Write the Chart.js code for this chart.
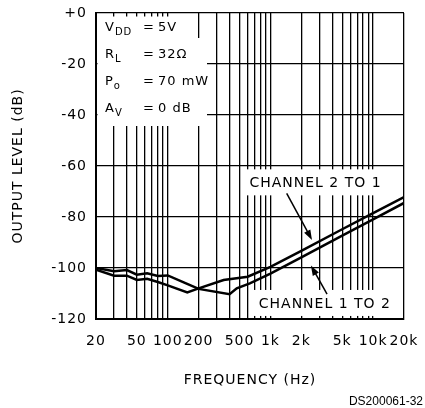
<!DOCTYPE html>
<html>
<head>
<meta charset="utf-8">
<script src="https://cdn.jsdelivr.net/npm/chart.js@4.4.1/dist/chart.umd.min.js"></script>
<style>
  html, body { margin: 0; padding: 0; background: #fff; }
  #wrap { width: 425px; height: 408px; }
</style>
</head>
<body>
<div id="wrap"><canvas id="crosstalkChart" width="425" height="408"></canvas></div>
<script>
// axis ticks
const xTickValues = [20, 50, 100, 200, 500, 1000, 2000, 5000, 10000, 20000];
const xTickLabels = ["20", "50", "100", "200", "500", "1k", "2k", "5k", "10k", "20k"];
const yTickValues = [0, -20, -40, -60, -80, -100, -120];
const yTickLabels = ["+0", "-20", "-40", "-60", "-80", "-100", "-120"];

// channel 2 -> 1 (upper curve at high frequency)
const freq2to1 = [20, 30, 40, 50, 63, 80, 100, 155, 200, 350, 600, 1000, 2000, 5000, 10000, 20000];
const level2to1 = [-100.7, -103.0, -103.0, -104.7, -104.2, -105.5, -106.8, -109.6, -108.0, -104.7, -103.4, -99.6, -93.3, -84.8, -78.5, -72.2];

// channel 1 -> 2 (lower curve at high frequency)
const freq1to2 = [20, 30, 40, 50, 63, 80, 100, 143, 200, 400, 470, 630, 1000, 2000, 5000, 10000, 20000];
const level1to2 = [-100.0, -101.3, -100.8, -102.6, -102.1, -103.1, -102.9, -105.6, -108.2, -110.3, -108.0, -106.0, -102.2, -95.8, -87.3, -80.9, -74.5];

// test conditions box
const condName = ["V", "R", "P", "A"];
const condSub = ["DD", "L", "o", "V"];
const condValue = ["5V", "32Ω", "70 mW", "0 dB"];

// curve labels and their arrows (frequency, level)
const noteText = ["CHANNEL 2 TO 1", "CHANNEL 1 TO 2"];
const noteAt = [[2750, -66.8], [3390, -114.1]];
const arrowFrom = [[1440, -70.7], [3560, -110.2]];
const arrowTo = [[2540, -89.0], [2480, -99.0]];

const FONT = "'DejaVu Sans', sans-serif";

// every 1..9 x decade gets a grid line
const gridValues = [];
for (let d = 10; d <= 10000; d *= 10) {
  for (let m = 1; m <= 9; m++) {
    const v = m * d;
    if (v >= 20 && v <= 20000) gridValues.push(v);
  }
}

function drawSub(ctx, x, y, main, sub) {
  ctx.font = "13px " + FONT;
  ctx.fillText(main, x, y);
  const w = ctx.measureText(main).width;
  ctx.font = "10px " + FONT;
  ctx.fillText(sub, x + w, y + 4);
}

function drawArrow(ctx, x1, y1, x2, y2) {
  const ang = Math.atan2(y2 - y1, x2 - x1);
  const len = 10, half = 3.5;
  ctx.beginPath();
  ctx.moveTo(x1, y1);
  ctx.lineTo(x2 - Math.cos(ang) * len * 0.8, y2 - Math.sin(ang) * len * 0.8);
  ctx.stroke();
  ctx.beginPath();
  ctx.moveTo(x2, y2);
  ctx.lineTo(x2 - Math.cos(ang) * len - Math.sin(ang) * half, y2 - Math.sin(ang) * len + Math.cos(ang) * half);
  ctx.lineTo(x2 - Math.cos(ang) * len + Math.sin(ang) * half, y2 - Math.sin(ang) * len - Math.cos(ang) * half);
  ctx.closePath();
  ctx.fill();
}

const notesPlugin = {
  id: "notes",
  beforeDraw(chart) {
    chart.ctx.letterSpacing = "1px";
  },
  beforeDatasetsDraw(chart) {
    const { ctx, chartArea: a, scales: { x, y } } = chart;
    ctx.save();
    ctx.fillStyle = "#fff";
    // blank the grid behind the conditions text
    ctx.fillRect(a.left + 1.5, a.top + 3.5, 98.5, 22);
    ctx.fillRect(a.left + 1.5, a.top + 25, 109.5, 88);
    // blank the grid behind the curve labels
    ctx.font = "14px " + FONT;
    noteText.forEach((t, i) => {
      const cx = x.getPixelForValue(noteAt[i][0]);
      const cy = y.getPixelForValue(noteAt[i][1]);
      const w = ctx.measureText(t).width + 12;
      ctx.fillRect(cx - w / 2, cy - 14, w, 26);
    });
    ctx.restore();
  },
  afterDatasetsDraw(chart) {
    const { ctx, chartArea: a, scales: { x, y } } = chart;
    ctx.save();
    ctx.fillStyle = "#000";
    ctx.strokeStyle = "#000";
    ctx.textBaseline = "alphabetic";
    ctx.textAlign = "left";
    const rows = [17.7, 45.3, 72, 99];
    condName.forEach((n, i) => {
      const by = a.top + rows[i];
      drawSub(ctx, a.left + 9, by, n, condSub[i]);
      ctx.font = "13px " + FONT;
      ctx.fillText("=", a.left + 47, by);
      ctx.fillText(condValue[i], a.left + 62, by);
    });

    ctx.font = "14px " + FONT;
    ctx.textAlign = "center";
    ctx.textBaseline = "middle";
    ctx.lineWidth = 1.5;
    noteText.forEach((t, i) => {
      ctx.fillText(t, x.getPixelForValue(noteAt[i][0]), y.getPixelForValue(noteAt[i][1]));
      drawArrow(ctx,
        x.getPixelForValue(arrowFrom[i][0]), y.getPixelForValue(arrowFrom[i][1]),
        x.getPixelForValue(arrowTo[i][0]), y.getPixelForValue(arrowTo[i][1]));
    });

    // figure reference code
    ctx.letterSpacing = "0px";
    ctx.font = "12px 'Liberation Sans', Arial, sans-serif";
    ctx.textAlign = "right";
    ctx.textBaseline = "alphabetic";
    ctx.fillText("DS200061-32", 423, 405);
    ctx.restore();
  }
};

const ctx = document.getElementById("crosstalkChart").getContext("2d");

new Chart(ctx, {
  type: "line",
  data: {
    datasets: [
      {
        label: "Channel 2 to 1",
        data: freq2to1.map((f, i) => ({ x: f, y: level2to1[i] })),
        borderColor: "#000",
        borderWidth: 2.5,
        pointRadius: 0,
        tension: 0,
      },
      {
        label: "Channel 1 to 2",
        data: freq1to2.map((f, i) => ({ x: f, y: level1to2[i] })),
        borderColor: "#000",
        borderWidth: 2.5,
        pointRadius: 0,
        tension: 0,
      },
    ],
  },
  options: {
    responsive: false,
    animation: false,
    devicePixelRatio: 1,
    layout: {
      padding: { left: 0, top: 13, right: 21, bottom: 0 },
    },
    plugins: {
      legend: { display: false },
      tooltip: { enabled: false },
    },
    scales: {
      x: {
        type: "logarithmic",
        min: 20,
        max: 20000,
        afterBuildTicks: (scale) => {
          scale.ticks = gridValues.map((v) => ({ value: v }));
        },
        afterFit: (scale) => {
          scale.height = 89;
          scale.paddingLeft = 0;
          scale.paddingRight = 0;
        },
        ticks: {
          autoSkip: false,
          maxRotation: 0,
          minRotation: 0,
          padding: 14,
          color: "#000",
          font: { family: FONT, size: 14 },
          callback: (value) => {
            const i = xTickValues.indexOf(value);
            return i >= 0 ? xTickLabels[i] : "";
          },
        },
        grid: {
          color: "#000",
          lineWidth: 1.3,
          drawTicks: false,
        },
        border: { color: "#000", width: 2 },
        title: {
          display: true,
          text: "FREQUENCY (Hz)",
          color: "#000",
          font: { family: FONT, size: 14 },
          padding: { top: 0, bottom: 19 },
        },
      },
      y: {
        type: "linear",
        min: -120,
        max: 0,
        afterFit: (scale) => {
          scale.width = 96;
          scale.paddingTop = 0;
          scale.paddingBottom = 0;
        },
        ticks: {
          stepSize: 20,
          padding: 9,
          color: "#000",
          font: { family: FONT, size: 14 },
          callback: (value) => {
            const i = yTickValues.indexOf(value);
            return i >= 0 ? yTickLabels[i] : "";
          },
        },
        grid: {
          color: "#000",
          lineWidth: 1.3,
          drawTicks: false,
        },
        border: { color: "#000", width: 2 },
        title: {
          display: true,
          text: "OUTPUT LEVEL (dB)",
          color: "#000",
          font: { family: FONT, size: 14 },
          padding: { top: 10, bottom: 0 },
        },
      },
    },
  },
  plugins: [notesPlugin],
});
</script>
</body>
</html>
